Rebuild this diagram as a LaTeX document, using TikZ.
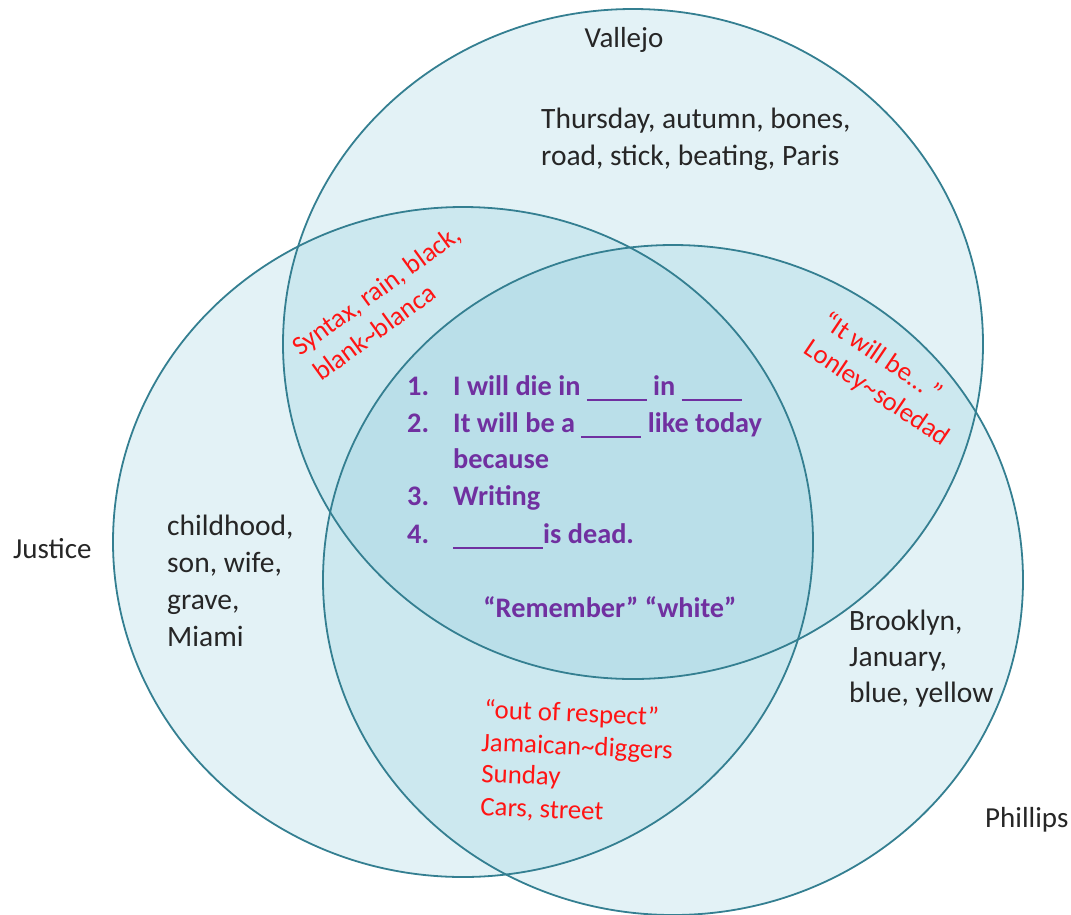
\documentclass[tikz,border=0pt]{standalone}
\usepackage{fontspec}
\setmainfont{Carlito}
\definecolor{vennfill}{RGB}{115,190,210}
\definecolor{vennline}{RGB}{52,127,145}
\definecolor{txtgray}{RGB}{38,38,38}
\definecolor{txtpurple}{RGB}{112,48,160}
\definecolor{txtred}{RGB}{255,20,20}
\begin{document}
\begin{tikzpicture}[x=1pt,y=-1pt,
  vfill/.style={fill=vennfill, fill opacity=0.2},
  vline/.style={draw=vennline, line width=1.8pt},
  lbl/.style={inner sep=0, anchor=base west, text=txtgray, font=\fontsize{29}{35}\selectfont},
  body/.style={inner sep=0, anchor=base west, text=txtgray, font=\fontsize{29.5}{36}\selectfont},
  purp/.style={inner sep=0, anchor=base west, text=txtpurple, font=\fontsize{28.3}{36}\selectfont\bfseries},
  redt/.style={inner sep=0, anchor=base west, text=txtred, font=\fontsize{26.8}{32}\selectfont}]
\useasboundingbox (0,0) rectangle (1071,914);
% fills
\fill[vfill] (633,344) ellipse [x radius=350, y radius=335];
\fill[vfill] (463,542) ellipse [x radius=350, y radius=335];
\fill[vfill] (673,580) ellipse [x radius=350, y radius=335];
% outlines
\draw[vline] (633,344) ellipse [x radius=350, y radius=335];
\draw[vline] (463,542) ellipse [x radius=350, y radius=335];
\draw[vline] (673,580) ellipse [x radius=350, y radius=335];
% set labels
\node[lbl, anchor=base] (vallejo) at (624,47) {Vallejo};
\node[lbl] (justice) at (13,558) {Justice};
\node[lbl] (phillips) at (985,827) {Phillips};
% Vallejo only
\node[body] (v1) at (541,128) {Thursday, autumn, bones,};
\node[body] (v2) at (541,165) {road, stick, beating, Paris};
% Justice only
\node[body] (j1) at (167,535) {childhood,};
\node[body] (j2) at (167,572) {son, wife,};
\node[body] (j3) at (167,609) {grave,};
\node[body] (j4) at (167,646) {Miami};
% Phillips only
\node[body] (p1) at (849,630) {Brooklyn,};
\node[body] (p2) at (849,666) {January,};
\node[body] (p3) at (849,702) {blue, yellow};
% Vallejo & Justice
\node[redt, rotate=36] (vj1) at (300,357) {Syntax, rain, black,};
\node[redt, rotate=36] (vj2) at (321,382) {blank\char"7E blanca};
% Vallejo & Phillips
\node[redt, rotate=-34] (vp1) at (820,325) {“It will be…\,”};
\node[redt, rotate=-34] (vp2) at (802,352) {Lonley\char"7E soledad};
% Justice & Phillips
\node[redt, rotate=-2.5] (jp1) at (484,718) {“out of respect”};
\node[redt, rotate=-2.5] (jp2) at (481,751) {Jamaican\char"7E diggers};
\node[redt, rotate=-2.5] (jp3) at (481,782) {Sunday};
\node[redt, rotate=-2.5] (jp4) at (480,815) {Cars, street};
% all three
\node[purp] (n1) at (407,395) {1.};
\node[purp] (i1) at (453,395) {I will die in \rule[-5.6pt]{60pt}{1.3pt} in \rule[-5.6pt]{60pt}{1.3pt}};
\node[purp] (n2) at (407,432) {2.};
\node[purp] (i2) at (453,432) {It will be a \rule[-5.6pt]{60pt}{1.3pt} like today};
\node[purp] (i2b) at (453,468) {because};
\node[purp] (n3) at (407,505) {3.};
\node[purp] (i3) at (453,505) {Writing};
\node[purp] (n4) at (407,543) {4.};
\node[purp] (i4) at (453,543) {\rule[-5.6pt]{90pt}{1.3pt}is dead.};
\node[purp, anchor=base] (rem) at (610,617) {“Remember”\ “white”};
\end{tikzpicture}
\end{document}
